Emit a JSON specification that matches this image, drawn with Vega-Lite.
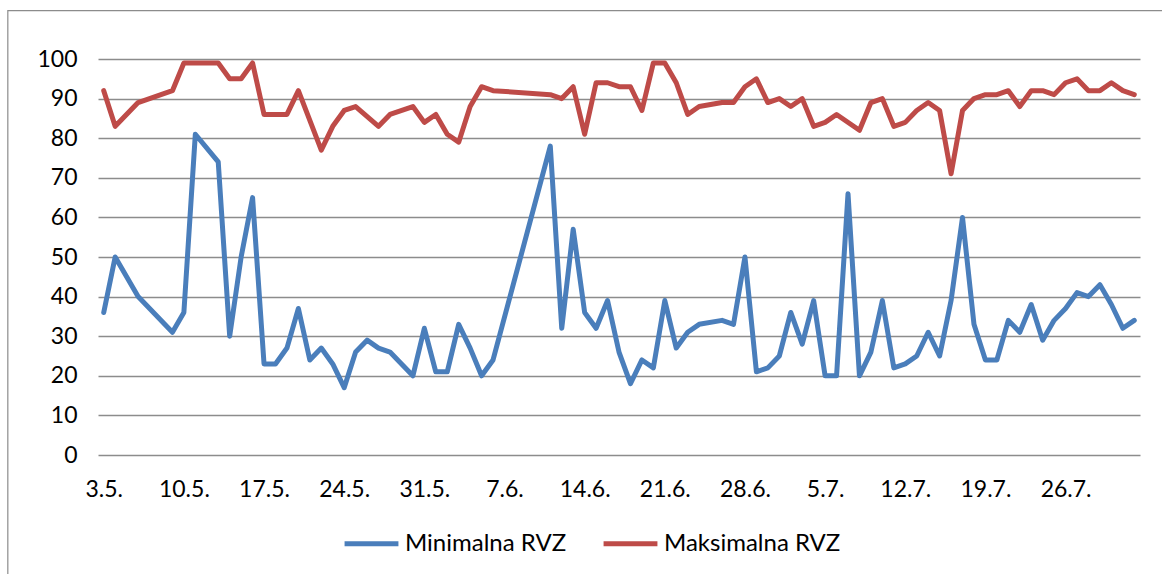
{
  "$schema": "https://vega.github.io/schema/vega-lite/v6.json",
  "width": 1042,
  "height": 396,
  "autosize": {"type": "none"},
  "padding": {"left": 98, "top": 59, "right": 22, "bottom": 119},
  "background": "white",
  "config": {"view": {"stroke": null}, "font": "Lato"},
  "resolve": {"axis": {"x": "independent", "y": "independent"}},
  "layer": [
    {
      "data": {"values": [{}]},
      "mark": {"type": "rect", "fill": null, "stroke": "#8c8c8c", "strokeWidth": 1.2, "clip": false},
      "encoding": {
        "x": {"datum": {"year": 2013, "month": 4, "date": 24, "hours": 15, "utc": true}, "type": "temporal",
              "scale": {"type": "utc", "domain": [{"year": 2013, "month": 5, "date": 2, "hours": 12, "utc": true}, {"year": 2013, "month": 8, "date": 1, "hours": 12, "utc": true}]},
              "axis": null},
        "x2": {"datum": {"year": 2013, "month": 9, "date": 20, "utc": true}},
        "y": {"datum": 112.2, "type": "quantitative", "scale": {"domain": [0, 100], "nice": false, "zero": false}, "axis": null},
        "y2": {"datum": -40}
      }
    },
    {
      "data": {"values": [
        {"datum": "2013-05-03", "Minimalna RVZ": 36, "Maksimalna RVZ": 92},
        {"datum": "2013-05-04", "Minimalna RVZ": 50, "Maksimalna RVZ": 83},
        {"datum": "2013-05-06", "Minimalna RVZ": 40, "Maksimalna RVZ": 89},
        {"datum": "2013-05-09", "Minimalna RVZ": 31, "Maksimalna RVZ": 92},
        {"datum": "2013-05-10", "Minimalna RVZ": 36, "Maksimalna RVZ": 99},
        {"datum": "2013-05-11", "Minimalna RVZ": 81, "Maksimalna RVZ": null},
        {"datum": "2013-05-13", "Minimalna RVZ": 74, "Maksimalna RVZ": 99},
        {"datum": "2013-05-14", "Minimalna RVZ": 30, "Maksimalna RVZ": 95},
        {"datum": "2013-05-15", "Minimalna RVZ": 50, "Maksimalna RVZ": 95},
        {"datum": "2013-05-16", "Minimalna RVZ": 65, "Maksimalna RVZ": 99},
        {"datum": "2013-05-17", "Minimalna RVZ": 23, "Maksimalna RVZ": 86},
        {"datum": "2013-05-18", "Minimalna RVZ": 23, "Maksimalna RVZ": null},
        {"datum": "2013-05-19", "Minimalna RVZ": 27, "Maksimalna RVZ": 86},
        {"datum": "2013-05-20", "Minimalna RVZ": 37, "Maksimalna RVZ": 92},
        {"datum": "2013-05-21", "Minimalna RVZ": 24, "Maksimalna RVZ": null},
        {"datum": "2013-05-22", "Minimalna RVZ": 27, "Maksimalna RVZ": 77},
        {"datum": "2013-05-23", "Minimalna RVZ": 23, "Maksimalna RVZ": 83},
        {"datum": "2013-05-24", "Minimalna RVZ": 17, "Maksimalna RVZ": 87},
        {"datum": "2013-05-25", "Minimalna RVZ": 26, "Maksimalna RVZ": 88},
        {"datum": "2013-05-26", "Minimalna RVZ": 29, "Maksimalna RVZ": null},
        {"datum": "2013-05-27", "Minimalna RVZ": 27, "Maksimalna RVZ": 83},
        {"datum": "2013-05-28", "Minimalna RVZ": 26, "Maksimalna RVZ": 86},
        {"datum": "2013-05-30", "Minimalna RVZ": 20, "Maksimalna RVZ": 88},
        {"datum": "2013-05-31", "Minimalna RVZ": 32, "Maksimalna RVZ": 84},
        {"datum": "2013-06-01", "Minimalna RVZ": 21, "Maksimalna RVZ": 86},
        {"datum": "2013-06-02", "Minimalna RVZ": 21, "Maksimalna RVZ": 81},
        {"datum": "2013-06-03", "Minimalna RVZ": 33, "Maksimalna RVZ": 79},
        {"datum": "2013-06-04", "Minimalna RVZ": 27, "Maksimalna RVZ": 88},
        {"datum": "2013-06-05", "Minimalna RVZ": 20, "Maksimalna RVZ": 93},
        {"datum": "2013-06-06", "Minimalna RVZ": 24, "Maksimalna RVZ": 92},
        {"datum": "2013-06-11", "Minimalna RVZ": 78, "Maksimalna RVZ": 91},
        {"datum": "2013-06-12", "Minimalna RVZ": 32, "Maksimalna RVZ": 90},
        {"datum": "2013-06-13", "Minimalna RVZ": 57, "Maksimalna RVZ": 93},
        {"datum": "2013-06-14", "Minimalna RVZ": 36, "Maksimalna RVZ": 81},
        {"datum": "2013-06-15", "Minimalna RVZ": 32, "Maksimalna RVZ": 94},
        {"datum": "2013-06-16", "Minimalna RVZ": 39, "Maksimalna RVZ": 94},
        {"datum": "2013-06-17", "Minimalna RVZ": 26, "Maksimalna RVZ": 93},
        {"datum": "2013-06-18", "Minimalna RVZ": 18, "Maksimalna RVZ": 93},
        {"datum": "2013-06-19", "Minimalna RVZ": 24, "Maksimalna RVZ": 87},
        {"datum": "2013-06-20", "Minimalna RVZ": 22, "Maksimalna RVZ": 99},
        {"datum": "2013-06-21", "Minimalna RVZ": 39, "Maksimalna RVZ": 99},
        {"datum": "2013-06-22", "Minimalna RVZ": 27, "Maksimalna RVZ": 94},
        {"datum": "2013-06-23", "Minimalna RVZ": 31, "Maksimalna RVZ": 86},
        {"datum": "2013-06-24", "Minimalna RVZ": 33, "Maksimalna RVZ": 88},
        {"datum": "2013-06-26", "Minimalna RVZ": 34, "Maksimalna RVZ": 89},
        {"datum": "2013-06-27", "Minimalna RVZ": 33, "Maksimalna RVZ": 89},
        {"datum": "2013-06-28", "Minimalna RVZ": 50, "Maksimalna RVZ": 93},
        {"datum": "2013-06-29", "Minimalna RVZ": 21, "Maksimalna RVZ": 95},
        {"datum": "2013-06-30", "Minimalna RVZ": 22, "Maksimalna RVZ": 89},
        {"datum": "2013-07-01", "Minimalna RVZ": 25, "Maksimalna RVZ": 90},
        {"datum": "2013-07-02", "Minimalna RVZ": 36, "Maksimalna RVZ": 88},
        {"datum": "2013-07-03", "Minimalna RVZ": 28, "Maksimalna RVZ": 90},
        {"datum": "2013-07-04", "Minimalna RVZ": 39, "Maksimalna RVZ": 83},
        {"datum": "2013-07-05", "Minimalna RVZ": 20, "Maksimalna RVZ": 84},
        {"datum": "2013-07-06", "Minimalna RVZ": 20, "Maksimalna RVZ": 86},
        {"datum": "2013-07-07", "Minimalna RVZ": 66, "Maksimalna RVZ": null},
        {"datum": "2013-07-08", "Minimalna RVZ": 20, "Maksimalna RVZ": 82},
        {"datum": "2013-07-09", "Minimalna RVZ": 26, "Maksimalna RVZ": 89},
        {"datum": "2013-07-10", "Minimalna RVZ": 39, "Maksimalna RVZ": 90},
        {"datum": "2013-07-11", "Minimalna RVZ": 22, "Maksimalna RVZ": 83},
        {"datum": "2013-07-12", "Minimalna RVZ": 23, "Maksimalna RVZ": 84},
        {"datum": "2013-07-13", "Minimalna RVZ": 25, "Maksimalna RVZ": 87},
        {"datum": "2013-07-14", "Minimalna RVZ": 31, "Maksimalna RVZ": 89},
        {"datum": "2013-07-15", "Minimalna RVZ": 25, "Maksimalna RVZ": 87},
        {"datum": "2013-07-16", "Minimalna RVZ": 39, "Maksimalna RVZ": 71},
        {"datum": "2013-07-17", "Minimalna RVZ": 60, "Maksimalna RVZ": 87},
        {"datum": "2013-07-18", "Minimalna RVZ": 33, "Maksimalna RVZ": 90},
        {"datum": "2013-07-19", "Minimalna RVZ": 24, "Maksimalna RVZ": 91},
        {"datum": "2013-07-20", "Minimalna RVZ": 24, "Maksimalna RVZ": 91},
        {"datum": "2013-07-21", "Minimalna RVZ": 34, "Maksimalna RVZ": 92},
        {"datum": "2013-07-22", "Minimalna RVZ": 31, "Maksimalna RVZ": 88},
        {"datum": "2013-07-23", "Minimalna RVZ": 38, "Maksimalna RVZ": 92},
        {"datum": "2013-07-24", "Minimalna RVZ": 29, "Maksimalna RVZ": 92},
        {"datum": "2013-07-25", "Minimalna RVZ": 34, "Maksimalna RVZ": 91},
        {"datum": "2013-07-26", "Minimalna RVZ": 37, "Maksimalna RVZ": 94},
        {"datum": "2013-07-27", "Minimalna RVZ": 41, "Maksimalna RVZ": 95},
        {"datum": "2013-07-28", "Minimalna RVZ": 40, "Maksimalna RVZ": 92},
        {"datum": "2013-07-29", "Minimalna RVZ": 43, "Maksimalna RVZ": 92},
        {"datum": "2013-07-30", "Minimalna RVZ": 38, "Maksimalna RVZ": 94},
        {"datum": "2013-07-31", "Minimalna RVZ": 32, "Maksimalna RVZ": 92},
        {"datum": "2013-08-01", "Minimalna RVZ": 34, "Maksimalna RVZ": 91}
      ]},
      "transform": [{"fold": ["Minimalna RVZ", "Maksimalna RVZ"], "as": ["serija", "vrijednost"]}],
      "mark": {"type": "line", "strokeWidth": 5, "strokeCap": "round", "strokeJoin": "round", "invalid": "filter"},
      "encoding": {
        "x": {
          "field": "datum", "type": "temporal",
          "scale": {"type": "utc", "domain": [{"year": 2013, "month": 5, "date": 2, "hours": 12, "utc": true}, {"year": 2013, "month": 8, "date": 1, "hours": 12, "utc": true}]},
          "axis": {
            "values": [
              {"year": 2013, "month": 5, "date": 3, "utc": true},
              {"year": 2013, "month": 5, "date": 10, "utc": true},
              {"year": 2013, "month": 5, "date": 17, "utc": true},
              {"year": 2013, "month": 5, "date": 24, "utc": true},
              {"year": 2013, "month": 5, "date": 31, "utc": true},
              {"year": 2013, "month": 6, "date": 7, "utc": true},
              {"year": 2013, "month": 6, "date": 14, "utc": true},
              {"year": 2013, "month": 6, "date": 21, "utc": true},
              {"year": 2013, "month": 6, "date": 28, "utc": true},
              {"year": 2013, "month": 7, "date": 5, "utc": true},
              {"year": 2013, "month": 7, "date": 12, "utc": true},
              {"year": 2013, "month": 7, "date": 19, "utc": true},
              {"year": 2013, "month": 7, "date": 26, "utc": true}
            ],
            "labelExpr": "utcFormat(datum.value, '%-d.%-m.')",
            "title": null, "domain": false, "ticks": false, "tickSize": 0, "grid": false,
            "labelFont": "Lato", "labelFontSize": 23, "labelColor": "#000000",
            "labelPadding": 23, "labelFlush": false, "labelOverlap": false
          }
        },
        "y": {
          "field": "vrijednost", "type": "quantitative",
          "scale": {"domain": [0, 100], "nice": false, "zero": false},
          "axis": {
            "values": [0, 10, 20, 30, 40, 50, 60, 70, 80, 90, 100],
            "title": null, "domain": false, "ticks": false, "grid": true,
            "gridColor": "#8c8c8c", "gridWidth": 1.3,
            "labelFont": "Lato", "labelFontSize": 23, "labelColor": "#000000", "labelPadding": 21
          }
        },
        "color": {
          "field": "serija", "type": "nominal",
          "scale": {"domain": ["Minimalna RVZ", "Maksimalna RVZ"], "range": ["#4A7EBB", "#BE4B48"]},
          "legend": {
            "title": null, "orient": "none", "legendX": 244, "legendY": 455, "direction": "horizontal",
            "symbolType": "stroke", "symbolStrokeWidth": 5, "symbolSize": 2900,
            "labelFont": "Lato", "labelFontSize": 24, "labelColor": "#000000", "labelLimit": 400,
            "labelOffset": 4, "columnPadding": 26, "padding": 0
          }
        }
      }
    }
  ]
}
